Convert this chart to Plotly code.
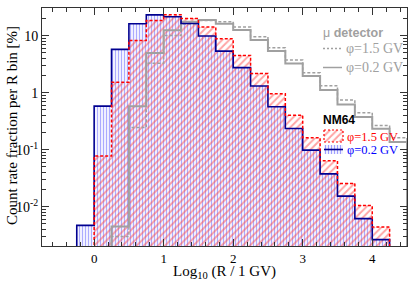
import numpy as np
import plotly.graph_objects as go

# ---- data -------------------------------------------------------------
bin_lo = [-0.25, 0.0, 0.25, 0.5, 0.75, 1.0, 1.25, 1.5, 1.75, 2.0,
          2.25, 2.5, 2.75, 3.0, 3.25, 3.5, 3.75, 4.0, 4.25]
bin_width = 0.25

nm64_phi02 = [0.0047, 0.58, 5.75, 16.2, 23.2, 21.5, 16.4, 9.9, 5.37, 2.75,
              1.31, 0.568, 0.236, 0.0984, 0.0376, 0.0153, 0.00616, 0.00264, 0.0]
nm64_phi15 = [0.0, 0.0772, 1.53, 8.27, 18.5, 23.4, 20.1, 14.2, 8.86, 4.51,
              2.18, 0.96, 0.40, 0.162, 0.064, 0.0256, 0.0105, 0.00439, 0.0]
mu_phi02 = [0.0, 0.0, 0.0045, 0.58, 4.99, 12.5, 17.6, 18.8, 16.2, 12.6,
            8.37, 5.37, 3.24, 1.96, 1.11, 0.623, 0.373, 0.232, 0.136]
mu_phi15 = [0.0, 0.0, 0.003, 0.246, 3.27, 10.1, 16.1, 18.5, 17.6, 14.2,
            9.6, 6.16, 3.73, 2.24, 1.33, 0.742, 0.446, 0.267, 0.162]

y_tickvals = [0.01, 0.1, 1, 10]
y_ticktext = ["10<sup>-2</sup>", "10<sup>-1</sup>", "1", "10"]
x_tickvals = [0, 1, 2, 3, 4]

# ---- helpers ----------------------------------------------------------
FLOOR = 1e-5
lo = np.array(bin_lo)
centers = lo + bin_width / 2
edges = np.append(lo, lo[-1] + bin_width)


def floored(v):
    return [max(x, FLOOR) for x in v]


def step_xy(v):
    vv = floored(v)
    xs = [edges[0]] + list(edges) + [edges[-1]]
    ys = [FLOOR] + vv + [vv[-1]] + [FLOOR]
    return xs, ys


SERIF = "Liberation Serif, Times New Roman, serif"
SANS = "Liberation Sans, Arial, sans-serif"
GRAY = "#a0a0a0"
RED = "#ff0000"
NAVY = "#000090"

L, R, T, B = 42, 407, 8, 246   # frame in pixels

fig = go.Figure()

# hatched fills
fig.add_trace(go.Bar(
    x=centers, y=floored(nm64_phi02), width=bin_width,
    marker=dict(color="rgba(0,0,0,0)", line=dict(width=0),
                pattern=dict(shape="|", fgcolor="#5a5aff", size=3,
                             solidity=0.45, fillmode="overlay")),
    showlegend=False, hoverinfo="skip"))
fig.add_trace(go.Bar(
    x=centers, y=floored(nm64_phi15), width=bin_width,
    marker=dict(color="rgba(0,0,0,0)", line=dict(width=0),
                pattern=dict(shape="/", fgcolor="#ff4848", size=5,
                             solidity=0.38, fillmode="overlay")),
    showlegend=False, hoverinfo="skip"))

# outlines
for vals, col, dash, w in [
        (mu_phi15, GRAY, "3px,2px", 1.5),
        (mu_phi02, GRAY, "solid", 2),
        (nm64_phi02, NAVY, "solid", 1.6),
        (nm64_phi15, RED, "3px,2px", 1.5)]:
    xs, ys = step_xy(vals)
    fig.add_trace(go.Scatter(x=xs, y=ys, mode="lines",
                             line=dict(color=col, width=w, dash=dash, shape="hv"),
                             showlegend=False, hoverinfo="skip"))


# ---- legend samples on an invisible overlay axis (0..1 frame fractions)
def frx(px):
    return (px - L) / (R - L)


def fry(py):
    return (B - py) / (B - T)


bx0, bx1 = frx(324), frx(343)
fig.add_trace(go.Scatter(
    x=[bx0, bx1, bx1, bx0, bx0], y=[fry(130), fry(130), fry(142), fry(142), fry(130)],
    xaxis="x2", yaxis="y2", mode="lines", fill="toself",
    fillcolor="rgba(0,0,0,0)",
    fillpattern=dict(shape="/", fgcolor="#ff4848", size=5, solidity=0.38, fillmode="overlay"),
    line=dict(color=RED, width=1.2, dash="2px,2px"), showlegend=False, hoverinfo="skip"))
fig.add_trace(go.Scatter(
    x=[bx0, bx1, bx1, bx0, bx0], y=[fry(145), fry(145), fry(154), fry(154), fry(145)],
    xaxis="x2", yaxis="y2", mode="lines", fill="toself",
    fillcolor="rgba(0,0,0,0)",
    fillpattern=dict(shape="|", fgcolor="#4040ff", size=3, solidity=0.45, fillmode="overlay"),
    line=dict(width=0), showlegend=False, hoverinfo="skip"))
fig.add_trace(go.Scatter(
    x=[bx0, bx1], y=[fry(149.5), fry(149.5)], xaxis="x2", yaxis="y2", mode="lines",
    line=dict(color=NAVY, width=1.6), showlegend=False, hoverinfo="skip"))
fig.add_trace(go.Scatter(
    x=[frx(323), frx(342)], y=[fry(48.5), fry(48.5)], xaxis="x2", yaxis="y2",
    mode="lines", line=dict(color=GRAY, width=1.5, dash="2px,2px"),
    showlegend=False, hoverinfo="skip"))
fig.add_trace(go.Scatter(
    x=[frx(323), frx(342)], y=[fry(67.5), fry(67.5)], xaxis="x2", yaxis="y2",
    mode="lines", line=dict(color=GRAY, width=1.5),
    showlegend=False, hoverinfo="skip"))

annots = [
    dict(x=frx(321), y=fry(33), text="μ <b>detector</b>", xanchor="left",
         font=dict(family=SANS, size=12.5, color=GRAY)),
    dict(x=frx(344), y=fry(48.5), text="φ=1.5 GV", xanchor="left",
         font=dict(family=SERIF, size=14, color=GRAY)),
    dict(x=frx(344), y=fry(67.5), text="φ=0.2 GV", xanchor="left",
         font=dict(family=SERIF, size=14, color=GRAY)),
    dict(x=frx(321), y=fry(119.5), text="<b>NM64</b>", xanchor="left",
         font=dict(family=SANS, size=12, color="black")),
    dict(x=frx(344.5), y=fry(136.5), text="φ=1.5 GV", xanchor="left",
         font=dict(family=SERIF, size=12.5, color=RED)),
    dict(x=frx(344.5), y=fry(150), text="φ=0.2 GV", xanchor="left",
         font=dict(family=SERIF, size=12.5, color="#0000ff")),
]
for a in annots:
    a.update(xref="x2", yref="y2", yanchor="middle", showarrow=False)

# axis titles
annots.append(dict(x=0.5, y=fry(272), xref="paper", yref="paper",
                   text="Log<sub>10</sub> (R / 1 GV)", showarrow=False,
                   xanchor="center", yanchor="middle",
                   font=dict(family=SERIF, size=15, color="black")))
annots.append(dict(x=frx(12), y=fry(126), xref="paper", yref="paper",
                   text="Count rate fraction per R bin [%]", showarrow=False,
                   textangle=-90, xanchor="center", yanchor="middle",
                   font=dict(family=SERIF, size=15, color="black")))

y_minor = [m * 10.0 ** e for e in range(-3, 2) for m in range(2, 10)]

fig.update_layout(
    width=415, height=283,
    margin=dict(l=L, r=415 - R, t=T, b=283 - B),
    paper_bgcolor="white", plot_bgcolor="white",
    barmode="overlay", bargap=0,
    showlegend=False,
    font=dict(family=SERIF, size=14, color="black"),
    annotations=annots,
    xaxis=dict(range=[-0.75, 4.5], tickvals=x_tickvals, ticks="inside", ticklen=7,
               tickcolor="#333", showline=True, linecolor="#333", linewidth=1,
               mirror="allticks", showgrid=False, zeroline=False, automargin=False,
               tickfont=dict(family=SERIF, size=13),
               minor=dict(dtick=0.2, tick0=0, ticks="inside", ticklen=4,
                          tickcolor="#333", showgrid=False)),
    yaxis=dict(type="log", range=[-2.69, 1.486], tickvals=y_tickvals,
               ticktext=y_ticktext, ticks="inside", ticklen=7, tickcolor="#333",
               showline=True, linecolor="#333", linewidth=1, mirror="allticks",
               showgrid=False, zeroline=False, automargin=False,
               tickfont=dict(family=SERIF, size=14),
               minor=dict(tickvals=y_minor, ticks="inside", ticklen=4,
                          tickcolor="#333", showgrid=False)),
    xaxis2=dict(overlaying="x", range=[0, 1], visible=False, anchor="y2",
                automargin=False),
    yaxis2=dict(overlaying="y", range=[0, 1], visible=False, anchor="x2",
                automargin=False),
)

fig.write_html("out.html", config={"displayModeBar": False},
               post_script="document.body.style.margin='0';"
                           "document.body.style.padding='0';")
